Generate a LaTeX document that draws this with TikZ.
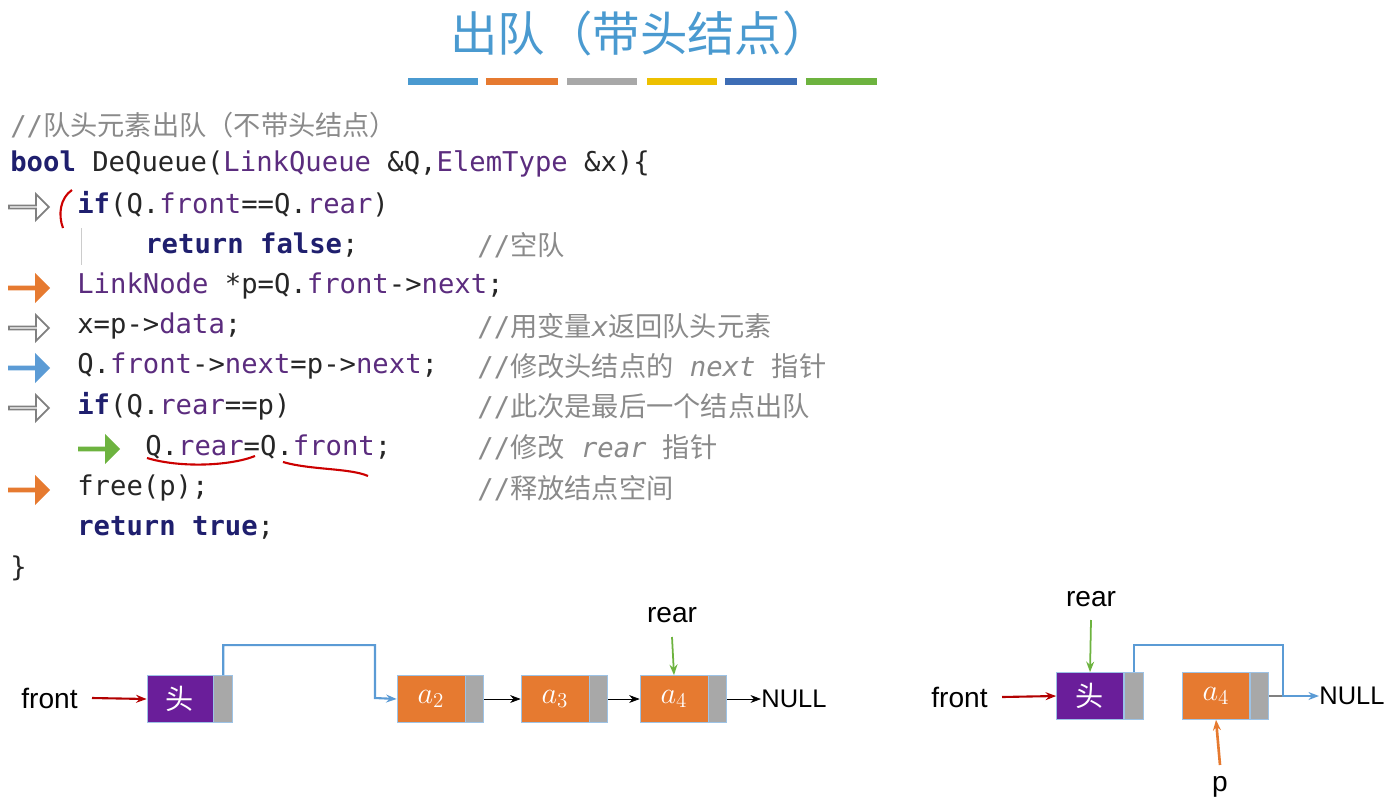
\documentclass[tikz,border=0pt]{standalone}
\usepackage{fontspec}
\setmainfont{Liberation Sans}
\setmonofont{DejaVu Sans Mono}
\newfontfamily\cjk{Noto Sans CJK SC}
\usetikzlibrary{shapes.arrows,arrows.meta}
\definecolor{kw}{HTML}{1F1F6E}
\definecolor{ty}{HTML}{5B2C7E}
\definecolor{cm}{HTML}{8A8A8A}
\definecolor{tblue}{HTML}{4A9AD0}
\definecolor{orn}{HTML}{E67A30}
\definecolor{pur}{HTML}{6A1E9A}
\definecolor{gry}{HTML}{A8A8A8}
\definecolor{lblue}{HTML}{5B9BD5}
\definecolor{grn}{HTML}{6DB33F}
\definecolor{ylw}{HTML}{EDC000}
\definecolor{dblue}{HTML}{3D6DB5}
\newcommand{\kwd}[1]{\textbf{\color{kw}#1}}
\newcommand{\tyd}[1]{{\color{ty}#1}}
\newcommand{\cmd}[1]{{\color{cm}#1}}
\newcommand{\cn}[1]{{\cjk #1}}
\begin{document}
\begin{tikzpicture}[x=0.02cm,y=-0.02cm,
 code/.style={anchor=west,inner sep=0,font=\ttfamily\fontsize{15.5}{18}\selectfont,text=black!85},
 barr/.style={single arrow,draw=gray,line width=1pt,fill=white,minimum height=40*0.02cm,minimum width=26*0.02cm,single arrow head extend=4pt,single arrow head indent=0pt,inner sep=0,anchor=west},
 farr/.style={barr,draw=#1,fill=#1},
 box/.style={minimum width=#1,minimum height=47*0.02cm,inner sep=0,draw=lblue!60,line width=0.4pt},
 lbl/.style={font=\fontsize{16}{19}\selectfont,inner sep=0},
 nul/.style={font=\fontsize{14.5}{17}\selectfont,inner sep=0}]
\useasboundingbox (0,0) rectangle (1392,808);
\node[text=tblue,font=\cjk\fontsize{27}{30}\selectfont] (title) at (640,33) {出队（带头结点）};
\foreach \a/\b/\c in {408/478/tblue,486/558/orn,567/637/gry,647/717/ylw,725/797/dblue,806/877/grn}
  \fill[\c] (\a,78) rectangle (\b,85);
% code
\node[code] (l1) at (10,125) {\cmd{//\cn{队头元素出队（不带头结点）}}};
\node[code] (l2) at (10,164) {\kwd{bool} DeQueue(\tyd{LinkQueue} \&Q,\tyd{ElemType} \&x)\{};
\node[code] (l3) at (77,204) {\kwd{if}(Q.\tyd{front}==Q.\tyd{rear})};
\node[code] (l4) at (145,245) {\kwd{return} \kwd{false};};
\node[code] (c4) at (477,245) {\cmd{//\cn{空队}}};
\node[code] (l5) at (77,286) {\tyd{LinkNode} *p=Q.\tyd{front}->\tyd{next};};
\node[code] (l6) at (77,326) {x=p->\tyd{data};};
\node[code] (c6) at (477,326) {\cmd{//\cn{用变量}\textit{x}\cn{返回队头元素}}};
\node[code] (l7) at (77,366) {Q.\tyd{front}->\tyd{next}=p->\tyd{next};};
\node[code] (c7) at (477,366) {\cmd{//\cn{修改头结点的} \textit{next} \cn{指针}}};
\node[code] (l8) at (77,406) {\kwd{if}(Q.\tyd{rear}==p)};
\node[code] (c8) at (477,406) {\cmd{//\cn{此次是最后一个结点出队}}};
\node[code] (l9) at (145,447) {Q.\tyd{rear}=Q.\tyd{front};};
\node[code] (c9) at (477,447) {\cmd{//\cn{修改} \textit{rear} \cn{指针}}};
\node[code] (l10) at (77,488) {free(p);};
\node[code] (c10) at (477,488) {\cmd{//\cn{释放结点空间}}};
\node[code] (l11) at (77,528) {\kwd{return} \kwd{true};};
\node[code] (l12) at (10,568) {\}};
\draw[gray!40] (81,228) -- (81,265);
% pointers
\node[barr] (a3) at (8,207) {};
\node[farr=orn] (a5) at (8,288) {};
\node[barr] (a6) at (8,328) {};
\node[farr=lblue] (a7) at (8,368) {};
\node[barr] (a8) at (8,408) {};
\node[farr=grn] (a9) at (78,449) {};
\node[farr=orn] (a10) at (8,490) {};
% handwriting
\draw[red!80!black,line width=1.2pt] (72,190) .. controls (60,198) and (58,215) .. (63,228);
\draw[red!80!black,line width=1.2pt] (147,458) .. controls (180,468) and (230,466) .. (255,456);
\draw[red!80!black,line width=1.2pt] (283,462) .. controls (310,470) and (350,468) .. (368,476);
% left diagram
\node[box=66*0.02cm,fill=pur,text=white,font=\cjk\fontsize{16}{18}\selectfont] (h1) at (180,699) {头};
\node[box=19*0.02cm,fill=gry,anchor=west] (h1p) at (h1.east) {};
\node[box=68*0.02cm,fill=orn,text=white,font=\fontsize{17}{20}\selectfont] (b2) at (431,699) {$a_2$};
\node[box=18*0.02cm,fill=gry,anchor=west] (b2p) at (b2.east) {};
\node[box=68*0.02cm,fill=orn,text=white,font=\fontsize{17}{20}\selectfont] (b3) at (555,699) {$a_3$};
\node[box=18*0.02cm,fill=gry,anchor=west] (b3p) at (b3.east) {};
\node[box=68*0.02cm,fill=orn,text=white,font=\fontsize{17}{20}\selectfont] (b4) at (674,699) {$a_4$};
\node[box=18*0.02cm,fill=gry,anchor=west] (b4p) at (b4.east) {};
\node[lbl,anchor=east] (fr1) at (78,698) {front};
\node[nul,anchor=west] (nl1) at (761,699) {NULL};
\node[lbl] (re1) at (672,615) {rear};
\coordinate (fr1s) at (92,698);
\coordinate (re1s) at (672,637);
\draw[-{Stealth[length=6pt]},red!70!black,line width=1.2pt] (fr1s) -- (h1.west);
\draw[-{Stealth[length=6pt]},grn,line width=1pt] (re1s) -- (b4.north);
\draw[-{Stealth[length=6pt]},lblue,line width=1.2pt] (h1p.north) -- ++(0,-30) -| (375,698) -- (b2.west);
\draw[-{Stealth[length=6pt]},black] (b2p.east) -- (b3.west);
\draw[-{Stealth[length=6pt]},black] (b3p.east) -- (b4.west);
\draw[-{Stealth[length=6pt]},black] (b4p.east) -- (nl1.west);
% right diagram
\node[box=67*0.02cm,fill=pur,text=white,font=\cjk\fontsize{16}{18}\selectfont] (h2) at (1090,696) {头};
\node[box=19*0.02cm,fill=gry,anchor=west] (h2p) at (h2.east) {};
\node[box=67*0.02cm,fill=orn,text=white,font=\fontsize{17}{20}\selectfont] (c4b) at (1216,696) {$a_4$};
\node[box=18*0.02cm,fill=gry,anchor=west] (c4p) at (c4b.east) {};
\node[lbl,anchor=east] (fr2) at (988,697) {front};
\node[nul,anchor=west] (nl2) at (1319,696) {NULL};
\node[lbl] (re2) at (1091,599) {rear};
\node[lbl] (p2) at (1220,787) {p};
\coordinate (fr2s) at (1002,697);
\coordinate (re2s) at (1091,620);
\coordinate (p2s) at (1220,765);
\draw[-{Stealth[length=6pt]},red!70!black,line width=1.2pt] (fr2s) -- (h2.west);
\draw[-{Stealth[length=6pt]},grn,line width=1pt] (re2s) -- (h2.north);
\draw[-{Stealth[length=6pt]},orn,line width=1.5pt] (p2s) -- (c4b.south);
\draw[gray,line width=1pt] (c4p.east) -- (1290,696);
\draw[-{Stealth[length=6pt]},lblue,line width=1.2pt] (h2p.north) -- ++(0,-27) -| (1283,696) -- (nl2.west);
\end{tikzpicture}
\end{document}
